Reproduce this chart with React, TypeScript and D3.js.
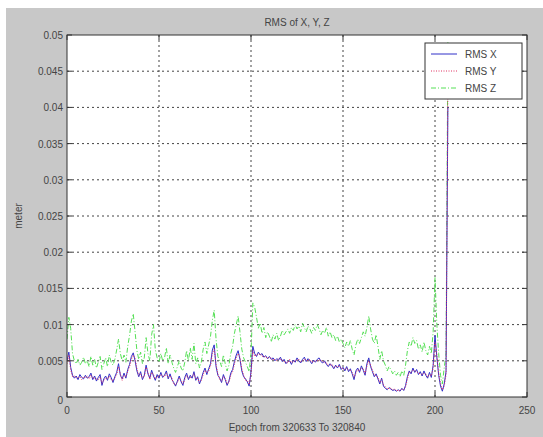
import React, { useEffect, useRef } from 'react';
import * as d3 from 'd3';

// RMS values in millimetres, one per epoch (0..207)
const rmsX = [
  5.0, 6.2, 4.1, 3.0, 2.6, 2.9, 2.4, 3.1, 2.7, 2.5,
  3.0, 2.6, 2.8, 3.3, 2.4, 2.9, 2.2, 2.7, 3.1, 1.6,
  2.5, 2.9, 2.3, 3.2, 2.7, 2.0, 2.8, 3.4, 4.6, 3.0,
  2.5, 3.3, 2.6, 3.8, 4.5, 5.6, 6.1, 5.0, 3.6, 2.8,
  3.5, 2.4, 3.0, 4.4, 3.2, 2.6, 3.7, 2.9, 2.3, 3.1,
  2.6, 3.4, 2.7, 3.0, 3.6, 2.5, 3.2, 2.4, 2.0, 1.5,
  2.2, 2.9, 2.1, 1.6, 2.7, 3.3, 2.4, 3.0, 2.6, 3.5,
  2.3, 2.8, 1.8, 2.5, 3.4, 4.0, 3.1, 3.9, 4.6, 6.5,
  7.2, 4.2, 3.0, 2.6, 2.0, 3.1, 2.4, 1.6, 2.2, 3.3,
  3.8, 4.9, 5.8, 6.4, 5.2, 3.6, 2.8, 2.5, 2.1, 1.5,
  3.5, 7.0, 6.0, 5.6, 6.2, 5.8, 6.0, 5.5, 5.7, 5.3,
  5.6, 5.2, 5.4, 5.0, 5.3, 5.1, 5.5, 4.9, 5.2, 4.6,
  4.9, 5.0, 4.5, 5.1, 4.8, 5.4, 5.0, 4.7, 5.2, 5.5,
  4.9, 5.3, 5.0, 4.6, 5.1, 4.8, 5.2, 5.4, 4.9, 4.7,
  5.0, 4.5, 4.2, 4.6, 4.3, 3.9, 4.4, 4.0, 4.5, 3.8,
  4.1, 3.6, 4.2, 3.5, 3.9, 3.2, 2.4, 3.6, 4.0, 3.4,
  4.3, 3.7, 3.0, 4.6, 5.4, 4.2, 3.5, 2.8, 3.2, 2.5,
  1.8, 2.6, 1.5, 1.2, 1.0, 1.3, 1.1, 0.9, 1.0, 0.8,
  1.0, 0.8, 1.2, 0.9, 1.6, 2.8, 3.6, 3.2, 4.0, 3.4,
  3.8, 3.1, 3.5, 2.9, 3.6, 3.0, 2.6, 3.4, 2.7, 4.4,
  8.5, 5.5, 3.0, 1.5, 0.8, 1.8, 3.5, 40.0,
];

const rmsY = [
  4.6, 5.8, 3.8, 2.8, 2.9, 2.6, 2.7, 2.8, 2.4, 2.8,
  2.7, 2.9, 2.5, 3.0, 2.6, 2.6, 2.5, 2.4, 2.8, 1.9,
  2.3, 2.6, 2.5, 2.9, 2.4, 2.2, 2.6, 3.1, 4.2, 3.2,
  2.3, 3.0, 2.8, 3.5, 4.2, 5.2, 5.8, 5.3, 3.9, 3.0,
  3.2, 2.6, 2.8, 4.1, 3.4, 2.4, 3.4, 3.1, 2.5, 2.8,
  2.8, 3.1, 2.9, 2.8, 3.3, 2.7, 2.9, 2.6, 1.8, 1.7,
  2.0, 2.6, 2.3, 1.8, 2.4, 3.0, 2.6, 2.7, 2.8, 3.2,
  2.5, 2.6, 2.0, 2.3, 3.1, 3.7, 3.3, 3.6, 4.3, 6.0,
  6.6, 4.5, 3.2, 2.4, 2.2, 2.8, 2.6, 1.8, 2.0, 3.0,
  3.5, 4.6, 5.4, 6.0, 5.5, 3.9, 3.0, 2.3, 2.3, 1.7,
  3.2, 6.4, 5.6, 5.9, 5.8, 6.0, 5.6, 5.7, 5.4, 5.5,
  5.3, 5.4, 5.1, 5.2, 5.0, 5.3, 5.2, 5.1, 4.9, 4.8,
  4.7, 5.2, 4.7, 4.9, 5.0, 5.1, 5.2, 4.9, 5.0, 5.2,
  5.1, 5.0, 5.2, 4.8, 4.9, 5.0, 5.0, 5.1, 5.1, 4.9,
  4.8, 4.7, 4.4, 4.4, 4.5, 4.1, 4.2, 4.2, 4.3, 4.0,
  3.9, 3.8, 4.0, 3.7, 3.7, 3.4, 2.7, 3.3, 3.8, 3.6,
  4.0, 3.9, 3.2, 4.3, 5.0, 4.4, 3.7, 3.0, 3.0, 2.7,
  2.0, 2.4, 1.7, 1.4, 1.1, 1.2, 1.2, 1.0, 1.1, 0.9,
  0.9, 0.9, 1.1, 1.0, 1.4, 2.5, 3.4, 3.4, 3.7, 3.6,
  3.5, 3.3, 3.2, 3.1, 3.3, 3.2, 2.8, 3.1, 2.9, 4.0,
  7.6, 5.8, 3.3, 1.8, 1.0, 1.5, 3.1, 43.0,
];

const rmsZ = [
  8.0, 11.0, 9.5, 6.0, 5.0, 4.6, 5.2, 4.4, 4.8, 5.5,
  4.6, 5.0, 4.2, 5.6, 4.4, 5.2, 4.0, 4.8, 5.6, 3.8,
  4.6, 5.4, 4.2, 5.8, 4.8, 4.4, 5.2, 6.5, 8.0, 6.0,
  5.0, 5.8, 4.8, 7.0, 8.5, 10.5, 11.5, 9.0, 6.4, 5.2,
  6.2, 4.6, 5.4, 8.2, 6.0, 5.0, 8.6, 10.0, 6.5, 5.4,
  4.8, 6.0, 5.0, 5.4, 6.8, 4.6, 5.8, 4.8, 4.0, 3.4,
  4.2, 5.0, 4.0, 3.6, 4.8, 6.4, 5.0, 6.8, 5.2, 7.4,
  4.6, 5.4, 4.0, 4.8, 6.6, 7.6, 6.0, 7.2, 8.4, 10.6,
  12.0, 8.0, 5.6, 5.0, 4.2, 5.8, 4.6, 3.6, 4.4, 6.0,
  7.0, 8.8, 10.0, 11.2, 9.0, 6.6, 5.4, 4.8, 4.2, 3.5,
  6.0, 13.0, 12.4, 11.0, 9.5, 10.2, 8.8, 9.6, 8.2, 9.0,
  8.4, 7.6, 8.6, 8.0, 8.8, 7.8, 8.4, 9.2, 8.6, 9.0,
  9.4, 8.8, 9.6, 9.2, 10.0, 9.4, 9.8, 9.0, 10.2, 9.6,
  9.0, 9.8, 9.4, 8.8, 9.6, 9.2, 10.0, 9.4, 8.6, 9.2,
  8.8, 9.6, 8.4, 9.0, 8.2, 8.6, 7.8, 8.4, 7.6, 8.0,
  7.4, 6.8, 7.6, 7.0, 7.8, 6.6, 5.8, 7.2, 8.0, 7.4,
  8.2, 9.0, 8.4, 9.6, 11.2, 9.4, 8.0, 7.4, 8.6, 7.0,
  5.2, 6.4, 5.0, 4.4, 3.6, 4.2, 3.8, 3.2, 3.6, 3.0,
  3.4, 2.8, 3.6, 3.0, 4.4, 6.4, 7.6, 7.0, 8.2, 7.4,
  7.8, 6.6, 7.2, 6.2, 7.6, 6.4, 5.8, 7.0, 6.0, 9.0,
  16.5, 10.0, 6.0, 3.0, 1.8, 4.0, 6.0, 49.0,
];

const xTicks = [0, 50, 100, 150, 200, 250];
const yTicks = [0, 0.005, 0.01, 0.015, 0.02, 0.025, 0.03, 0.035, 0.04, 0.045, 0.05];
const yTickLabels = ['0', '0.005', '0.01', '0.015', '0.02', '0.025', '0.03', '0.035', '0.04', '0.045', '0.05'];
const seriesNames = ['RMS X', 'RMS Y', 'RMS Z'];

const W = 543;
const H = 437;
const font = '"Liberation Sans", Arial, sans-serif';

export default function App() {
  const ref = useRef<SVGSVGElement>(null);

  useEffect(() => {
    const svg = d3.select(ref.current);
    svg.selectAll('*').remove();

    const left = 67, right = 527, top = 35, bottom = 397;
    const x = d3.scaleLinear().domain([0, 250]).range([left, right]);
    const y = d3.scaleLinear().domain([0, 0.05]).range([bottom, top]);

    // figure background
    svg.append('rect').attr('width', W).attr('height', H).attr('fill', '#fff');
    svg.append('rect').attr('x', 6).attr('y', 8).attr('width', W - 6).attr('height', H - 8).attr('fill', '#c8c8c8');
    svg.append('rect').attr('x', left).attr('y', top).attr('width', right - left).attr('height', bottom - top).attr('fill', '#fff');

    // grid
    const grid = svg.append('g').attr('stroke', '#444').attr('stroke-width', 1).attr('stroke-dasharray', '2,3');
    xTicks.slice(1, -1).forEach((t) => {
      grid.append('line').attr('x1', x(t)).attr('x2', x(t)).attr('y1', top).attr('y2', bottom);
    });
    yTicks.slice(1, -1).forEach((t) => {
      grid.append('line').attr('x1', left).attr('x2', right).attr('y1', y(t)).attr('y2', y(t));
    });

    // data lines
    const clip = svg.append('clipPath').attr('id', 'plotclip');
    clip.append('rect').attr('x', left).attr('y', top).attr('width', right - left).attr('height', bottom - top);
    const toM = (v: number) => v / 1000;
    const line = d3.line<number>().x((_, i) => x(i)).y((d) => y(toM(d)));
    const plot = svg.append('g').attr('clip-path', 'url(#plotclip)').attr('fill', 'none');
    plot.append('path').attr('d', line(rmsZ)).attr('stroke', '#55e055').attr('stroke-width', 1).attr('stroke-dasharray', '5,2,1,2');
    plot.append('path').attr('d', line(rmsX)).attr('stroke', '#3030c8').attr('stroke-width', 1);
    plot.append('path').attr('d', line(rmsY)).attr('stroke', '#e03060').attr('stroke-width', 1).attr('stroke-dasharray', '1,1.5');

    // box and ticks
    svg.append('rect').attr('x', left).attr('y', top).attr('width', right - left).attr('height', bottom - top)
      .attr('fill', 'none').attr('stroke', '#333').attr('stroke-width', 1);
    const ticks = svg.append('g').attr('stroke', '#333').attr('stroke-width', 1);
    xTicks.forEach((t) => {
      ticks.append('line').attr('x1', x(t)).attr('x2', x(t)).attr('y1', bottom).attr('y2', bottom - 5);
      ticks.append('line').attr('x1', x(t)).attr('x2', x(t)).attr('y1', top).attr('y2', top + 5);
    });
    yTicks.forEach((t) => {
      ticks.append('line').attr('x1', left).attr('x2', left + 5).attr('y1', y(t)).attr('y2', y(t));
      ticks.append('line').attr('x1', right).attr('x2', right - 5).attr('y1', y(t)).attr('y2', y(t));
    });

    const txt = svg.append('g').attr('font-family', font).attr('font-size', 10).attr('fill', '#444');
    xTicks.forEach((t) => {
      txt.append('text').attr('x', x(t)).attr('y', bottom + 17).attr('text-anchor', 'middle').text(String(t));
    });
    yTicks.forEach((t, i) => {
      txt.append('text').attr('x', left - 4).attr('y', y(t) + (i === 0 ? 7 : 4)).attr('text-anchor', 'end').text(yTickLabels[i]);
    });
    txt.append('text').attr('x', 297).attr('y', 26).attr('text-anchor', 'middle').text('RMS of X, Y, Z');
    txt.append('text').attr('x', 297).attr('y', 431).attr('text-anchor', 'middle').text('Epoch from 320633 To 320840');
    txt.append('text').attr('transform', 'translate(22,216) rotate(-90)').attr('text-anchor', 'middle').text('meter');

    // legend
    const lg = svg.append('g');
    lg.append('rect').attr('x', 425).attr('y', 43).attr('width', 97).attr('height', 56)
      .attr('fill', '#fff').attr('stroke', '#333').attr('stroke-width', 1);
    const styles = [
      { c: '#3030c8', d: null },
      { c: '#e03060', d: '1,1.5' },
      { c: '#55e055', d: '5,2,1,2' },
    ];
    seriesNames.forEach((name, i) => {
      const ly = 54 + i * 17;
      const l = lg.append('line').attr('x1', 431).attr('x2', 457).attr('y1', ly).attr('y2', ly)
        .attr('stroke', styles[i].c).attr('stroke-width', 1);
      if (styles[i].d) l.attr('stroke-dasharray', styles[i].d as string);
      lg.append('text').attr('x', 465).attr('y', ly + 4).attr('font-family', font).attr('font-size', 10)
        .attr('fill', '#444').text(name);
    });
  }, []);

  return (
    <svg ref={ref} width={W} height={H} style={{ position: 'absolute', left: 0, top: 0, display: 'block' }} />
  );
}
